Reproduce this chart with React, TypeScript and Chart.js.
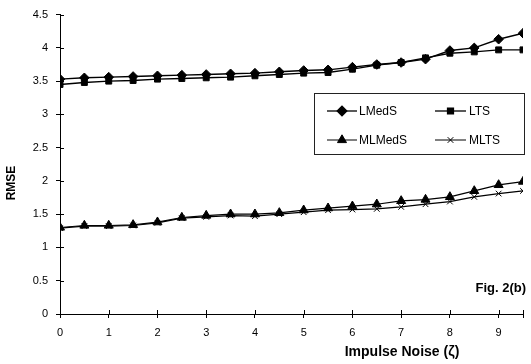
import React, { useEffect, useRef } from 'react';
import { Chart, registerables } from 'chart.js';
import { drawPoint } from 'chart.js/helpers';

Chart.register(...registerables);

const noise = [0, 0.5, 1, 1.5, 2, 2.5, 3, 3.5, 4, 4.5, 5, 5.5, 6, 6.5, 7, 7.5, 8, 8.5, 9, 9.5];
const lmeds = [3.53, 3.55, 3.56, 3.57, 3.58, 3.59, 3.6, 3.61, 3.62, 3.64, 3.66, 3.67, 3.71, 3.75, 3.78, 3.83, 3.96, 4.0, 4.13, 4.22];
const lts = [3.45, 3.48, 3.5, 3.51, 3.53, 3.54, 3.55, 3.56, 3.58, 3.6, 3.62, 3.63, 3.68, 3.74, 3.78, 3.85, 3.92, 3.94, 3.97, 3.97];
const mlmeds = [1.3, 1.33, 1.33, 1.34, 1.38, 1.45, 1.48, 1.5, 1.5, 1.52, 1.56, 1.59, 1.62, 1.65, 1.7, 1.72, 1.76, 1.85, 1.94, 1.99];
const mlts = [1.29, 1.32, 1.32, 1.33, 1.37, 1.44, 1.46, 1.48, 1.47, 1.5, 1.53, 1.56, 1.57, 1.58, 1.61, 1.65, 1.69, 1.76, 1.81, 1.85];

const seriesNames = ['LMedS', 'LTS', 'MLMedS', 'MLTS'];
const seriesMarkers = ['rectRot', 'rect', 'triangle', 'crossRot'];
const xTickValues = [0, 1, 2, 3, 4, 5, 6, 7, 8, 9];
const xTickLabels = ['0', '1', '2', '3', '4', '5', '6', '7', '8', '9'];
const yTickLabels = ['0', '0.5', '1', '1.5', '2', '2.5', '3', '3.5', '4', '4.5'];
const xMax = 9.5;
const yMax = 4.5;
const xTitle = 'Impulse Noise (ζ)';
const yTitle = 'RMSE';
const figLabel = 'Fig. 2(b)';

const FONT = '"Liberation Sans", Arial, Helvetica, sans-serif';

const markerRadius: Record<string, number> = { rectRot: 4.8, rect: 4.2, triangle: 5.2, crossRot: 4 };

const extrasPlugin = {
  id: 'extras',
  afterDraw(chart: any) {
    const ctx = chart.ctx as CanvasRenderingContext2D;
    const area = chart.chartArea;
    const xs = chart.scales.x;
    const ys = chart.scales.y;
    ctx.save();
    // inner tick marks (crossing style)
    ctx.strokeStyle = '#000';
    ctx.lineWidth = 1;
    ctx.beginPath();
    ys.ticks.forEach((t: any) => {
      const y = Math.round(ys.getPixelForValue(t.value)) + 0.5;
      ctx.moveTo(area.left, y);
      ctx.lineTo(area.left + 4, y);
    });
    xs.ticks.forEach((t: any) => {
      const x = Math.round(xs.getPixelForValue(t.value)) + 0.5;
      ctx.moveTo(x, area.bottom);
      ctx.lineTo(x, area.bottom - 4);
    });
    ctx.stroke();

    // axis titles
    ctx.fillStyle = '#000';
    ctx.font = `bold 14px ${FONT}`;
    ctx.textAlign = 'center';
    ctx.textBaseline = 'middle';
    ctx.fillText(xTitle, 402, 352);
    ctx.font = `bold 13px ${FONT}`;
    ctx.textAlign = 'right';
    ctx.fillText(figLabel, 526, 288);
    ctx.save();
    ctx.translate(12, 183);
    ctx.rotate(-Math.PI / 2);
    ctx.textAlign = 'center';
    ctx.font = `bold 12px ${FONT}`;
    ctx.fillText(yTitle, 0, 0);
    ctx.restore();

    // legend
    const L = 314, T = 93, R = 524, B = 154;
    ctx.strokeStyle = '#222';
    ctx.lineWidth = 1;
    ctx.strokeRect(L + 0.5, T + 0.5, R - L, B - T);
    const cols = [[327, 357, 359], [435, 466, 469]];
    const rows = [111, 140];
    ctx.font = `12px ${FONT}`;
    ctx.textAlign = 'left';
    ctx.textBaseline = 'middle';
    seriesNames.forEach((name, i) => {
      const c = cols[i % 2];
      const y = rows[Math.floor(i / 2)];
      ctx.strokeStyle = '#000';
      ctx.lineWidth = i < 2 ? 1.3 : 1;
      ctx.beginPath();
      ctx.moveTo(c[0], y);
      ctx.lineTo(c[1], y);
      ctx.stroke();
      ctx.fillStyle = '#000';
      drawPoint(ctx, { pointStyle: seriesMarkers[i], radius: markerRadius[seriesMarkers[i]], rotation: 0, borderWidth: 1 } as any, (c[0] + c[1]) / 2, y);
      ctx.fillStyle = '#000';
      ctx.fillText(name, c[2], y + 1);
    });
    ctx.restore();
  },
};

export default function App() {
  const ref = useRef<HTMLCanvasElement | null>(null);
  useEffect(() => {
    if (!ref.current) return;
    const all = [lmeds, lts, mlmeds, mlts];
    const chart = new Chart(ref.current, {
      type: 'line',
      data: {
        datasets: all.map((vals, i) => ({
          label: seriesNames[i],
          data: noise.map((x, j) => ({ x, y: vals[j] })),
          borderColor: '#000',
          backgroundColor: '#000',
          borderWidth: i < 2 ? 1.4 : 1.2,
          pointStyle: seriesMarkers[i] as any,
          pointRadius: markerRadius[seriesMarkers[i]],
          pointBorderWidth: 1,
          pointBackgroundColor: '#000',
          pointBorderColor: '#000',
          tension: 0,
        })),
      },
      options: {
        animation: false,
        responsive: false,
        maintainAspectRatio: false,
        layout: { padding: { top: 12, right: 6, left: 0, bottom: 0 } },
        plugins: { legend: { display: false }, tooltip: { enabled: false } },
        scales: {
          x: {
            type: 'linear',
            min: 0,
            max: xMax,
            afterFit: (s: any) => { s.height = 50; },
            afterBuildTicks: (s: any) => {
              s.ticks = [...xTickValues, xMax].map((v) => ({ value: v }));
            },
            border: { color: '#000', width: 1 },
            grid: { drawOnChartArea: false, drawTicks: true, tickLength: 4, color: '#000' },
            ticks: {
              padding: 8,
              color: '#000',
              font: { family: FONT, size: 11 },
              maxRotation: 0,
              autoSkip: false,
              callback: (v: any) => {
                const idx = xTickValues.indexOf(Number(v));
                return idx >= 0 ? xTickLabels[idx] : '';
              },
            },
          },
          y: {
            min: 0,
            max: yMax,
            afterFit: (s: any) => { s.width = 60; },
            border: { color: '#000', width: 1 },
            grid: { drawOnChartArea: false, drawTicks: true, tickLength: 4, color: '#000' },
            ticks: {
              stepSize: 0.5,
              padding: 8,
              color: '#000',
              font: { family: FONT, size: 11 },
              callback: (v: any) => {
                const idx = yTickLabels.indexOf(String(v));
                return idx >= 0 ? yTickLabels[idx] : '';
              },
            },
          },
        },
      },
      plugins: [extrasPlugin],
    });
    return () => chart.destroy();
  }, []);
  return (
    <div style={{ position: 'fixed', left: 0, top: 0, width: 531, height: 364, background: '#fff' }}>
      <canvas ref={ref} width={531} height={364} style={{ width: 531, height: 364 }} />
    </div>
  );
}
